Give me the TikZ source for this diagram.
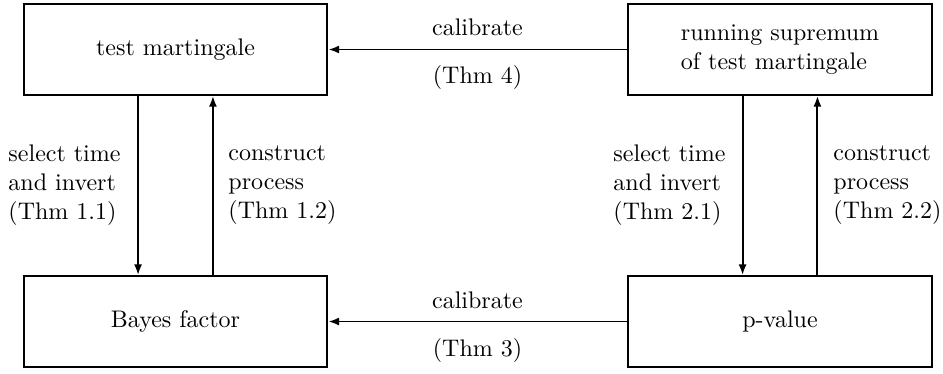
\documentclass[tikz,border=0pt]{standalone}
\usetikzlibrary{arrows.meta,positioning}
\begin{document}
\begin{tikzpicture}[x=0.4167pt,y=-0.4167pt,
  box/.style={draw,line width=0.8pt,minimum width=126.6pt,minimum height=37.9pt,inner sep=0pt,align=center},
  conn/.style={line width=0.8pt,-{Latex[length=4.5pt,width=3.4pt]}},
  lab/.style={inner sep=0pt,align=left,anchor=west},
  mlab/.style={inner sep=0pt,align=center}]
\useasboundingbox (0,0) rectangle (943,373);
\node[box] (tm) at (175.5,49.5) {test martingale};
\node[box,align=left] (rs) at (780,49.5) {running supremum\\of test martingale};
\node[box] (bf) at (175.5,321.5) {Bayes factor};
\node[box] (pv) at (780,321.5) {p-value};
% horizontal
\draw[conn] (rs.west) -- (tm.east);
\draw[conn] (pv.west) -- (bf.east);
\node[mlab] (c1) at (477.5,27) {calibrate};
\node[mlab] (t4) at (477.5,77) {(Thm 4)};
\node[mlab] (c2) at (477.5,300) {calibrate};
\node[mlab] (t3) at (477.5,350) {(Thm 3)};
% vertical
\draw[conn] ([xshift=-15.6pt]tm.south) -- ([xshift=-15.6pt]bf.north);
\draw[conn] ([xshift=15.6pt]bf.north) -- ([xshift=15.6pt]tm.south);
\draw[conn] ([xshift=-15.6pt]rs.south) -- ([xshift=-15.6pt]pv.north);
\draw[conn] ([xshift=15.6pt]pv.north) -- ([xshift=15.6pt]rs.south);
\node[lab] (l1) at (8,185) {select time\\and invert\\(Thm 1.1)};
\node[lab] (l2) at (228,185) {construct\\process\\(Thm 1.2)};
\node[lab] (l3) at (613,185) {select time\\and invert\\(Thm 2.1)};
\node[lab] (l4) at (833,185) {construct\\process\\(Thm 2.2)};
\end{tikzpicture}
\end{document}
